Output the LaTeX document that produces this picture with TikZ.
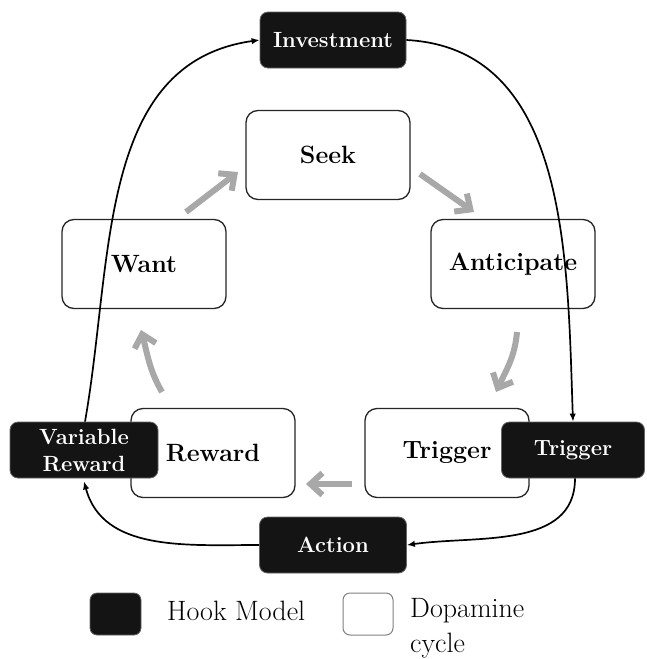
\documentclass[tikz,border=0pt]{standalone}
\usepackage{fontspec}
\usetikzlibrary{arrows.meta,calc}
\definecolor{boxblack}{HTML}{141414}
\definecolor{softgray}{HTML}{A8A8A8}
\tikzset{
  whitebox/.style={draw=black!85, line width=1.3pt, fill=white, rounded corners=12pt,
    minimum width=164pt, minimum height=89pt, inner sep=0pt,
    font=\fontsize{25}{28}\selectfont\bfseries},
  blackbox/.style={draw=black!60, line width=0.8pt, fill=boxblack, rounded corners=8pt,
    minimum width=146pt, minimum height=56pt, inner sep=0pt, text=white,
    font=\fontsize{22}{27}\selectfont\bfseries, align=center},
  hook/.style={line width=1.7pt, -{Latex[length=8pt,width=6.5pt]}},
  cyc/.style={line width=6pt, softgray, -{Straight Barb[length=12pt,width=22pt]}},
  legendtext/.style={font=\fontsize{28}{35}\selectfont, anchor=west, inner sep=0pt, align=left}
}
\begin{document}
\begin{tikzpicture}[x=1pt,y=-1pt]
\useasboundingbox (0,0) rectangle (646,659);
% dopamine cycle boxes
\node[whitebox] (seek) at (328,155) {Seek};
\node[whitebox] (want) at (144,264) {Want};
\node[whitebox] (anti) at (513,264) {Anticipate};
\node[whitebox] (rew) at (213,453) {Reward};
\node[whitebox] (trigw) at (447,453) {Trigger};
% gray cycle arrows
\coordinate (c1s) at (186,212); \coordinate (c1e) at (238,172);
\coordinate (c2s) at (420,174); \coordinate (c2e) at (474,212);
\coordinate (c3s) at (517,332); \coordinate (c3e) at (496,392);
\coordinate (c4s) at (352,484); \coordinate (c4e) at (306,484);
\coordinate (c5s) at (162,392); \coordinate (c5e) at (141,330);
\draw[cyc] (c1s) -- (c1e);
\draw[cyc] (c2s) -- (c2e);
\draw[cyc] (c3s) to[out=-95,in=65] (c3e);
\draw[cyc] (c4s) -- (c4e);
\draw[cyc] (c5s) to[out=120,in=-75] (c5e);
% hook model boxes
\node[blackbox] (inv) at (333,40) {Investment};
\node[blackbox, minimum width=143pt] (trigb) at (573,450) {Trigger};
\node[blackbox, minimum width=148pt] (var) at (84,450) {Variable\\Reward};
\node[blackbox, minimum width=147pt] (act) at (333,545) {Action};
% hook model connectors
\draw[hook] ($(var.north)+(1,0)$) to[out=80,in=188] (inv.west);
\draw[hook] (inv.east) to[out=-3,in=92] (trigb.north);
\draw[hook] ($(trigb.south)+(2,0)$) to[out=-90,in=8] (act.east);
\draw[hook] (act.west) to[out=180,in=-75] ($(var.south)+(0,3)$);
% legend
\node[fill=boxblack, draw=black!60, line width=0.8pt, rounded corners=7pt, minimum width=51pt, minimum height=42pt, inner sep=0pt] (lhook) at (115.5,614) {};
\node[legendtext] (lhookt) at (167,611) {Hook Model};
\node[fill=white, draw=black!50, line width=1pt, rounded corners=7pt, minimum width=50pt, minimum height=42pt, inner sep=0pt] (ldop) at (368,614) {};
\node[legendtext] (ldopt) at (410,628) {Dopamine\\cycle};
\end{tikzpicture}
\end{document}
